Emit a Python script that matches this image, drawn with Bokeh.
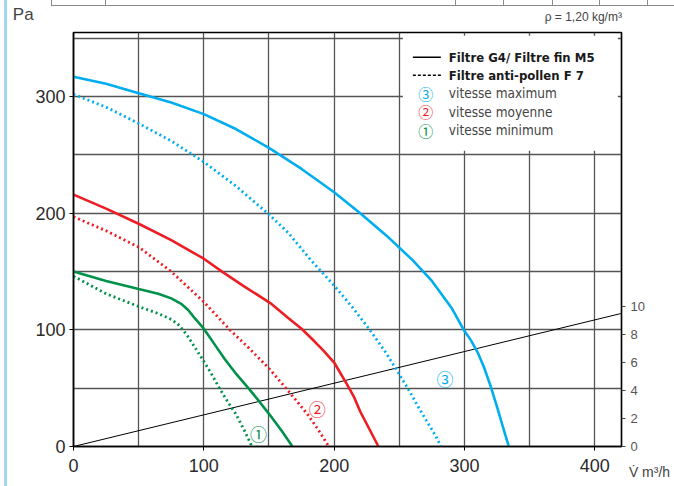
from bokeh.plotting import figure
from bokeh.models import (Range1d, LinearAxis, FixedTicker, SingleIntervalTicker,
                          Label, BoxAnnotation, Arrow, ColumnDataSource)
from bokeh.core.properties import value
from bokeh.embed import file_html
from bokeh.resources import INLINE

# ---------------- data ----------------
blue_solid_q = [0, 25, 50, 75, 100, 125, 150, 175, 200, 220, 240, 260, 275, 290,
                300, 305, 310, 315, 320, 325, 330, 334]
blue_solid_p = [317, 311, 303, 295, 285, 272, 256, 238, 218, 200, 181, 160, 142, 119,
                99, 91, 81, 68, 52, 34, 15, 0]
blue_dot_q = [0, 25, 50, 75, 100, 125, 150, 165, 182, 200, 215, 228, 240, 250, 258,
              265, 272, 278, 282]
blue_dot_p = [302, 291, 277, 262, 244, 223, 199, 183, 160, 138, 118, 99, 80, 62, 47,
              33, 20, 9, 0]
red_solid_q = [0, 25, 50, 75, 100, 114, 130, 151, 165, 175, 185, 192, 200, 209, 215,
               220, 227, 234]
red_solid_p = [216, 204, 191, 177, 161, 150, 138, 123, 110, 101, 90, 82, 72, 55, 43,
               30, 15, 0]
red_dot_q = [0, 25, 50, 75, 100, 120, 135, 150, 163, 172, 180, 188, 196]
red_dot_p = [197, 185, 171, 150, 124, 100, 84, 67, 50, 38, 27, 14, 0]
green_solid_q = [0, 25, 50, 65, 75, 83, 88, 93, 100, 108, 116, 125, 135, 143, 150,
                 160, 168]
green_solid_p = [150, 142, 135, 131, 127, 122, 117, 110, 101, 88, 75, 62, 49, 38, 28,
                 13, 0]
green_dot_q = [0, 25, 50, 65, 75, 80, 84, 88, 92, 96, 100, 106, 112, 118, 125, 131, 137]
green_dot_p = [146, 131, 120, 114, 109, 105, 100, 94, 87, 80, 73, 62, 50, 39, 27, 14, 0]
power_q = [0, 420]
power_w = [0, 9.5]

x_ticks = [0, 100, 200, 300, 400]
y_ticks = [0, 100, 200, 300]
w_ticks = [0, 2, 4, 6, 8, 10]

curve_labels = ["③", "②", "①"]
curve_label_q = [285, 187, 142]
curve_label_p = [58, 33, 11]

BLUE = "#00aeef"
RED = "#ee1d23"
GREEN = "#00914a"

X_END, Y_END = 420.5, 355

p = figure(width=674, height=486, output_backend="svg", toolbar_location=None,
           x_range=Range1d(0, X_END), y_range=Range1d(0, Y_END),
           min_border_left=73, min_border_right=53, min_border_top=32,
           min_border_bottom=40)
p.extra_y_ranges = {"w": Range1d(0, Y_END / 12)}
p.outline_line_color = "black"
p.outline_line_width = 1.5
p.background_fill_color = "white"
p.border_fill_alpha = 0

# page decorations behind the canvas: light blue left rule, cut-off box above
deco = ["linear-gradient(#9ed6f0,#9ed6f0) 4px 0 / 3px 100% no-repeat",
        "linear-gradient(#8a8a8a,#8a8a8a) 51px 5px / 623px 1px no-repeat",
        "linear-gradient(#8a8a8a,#8a8a8a) 51px 0 / 1px 6px no-repeat"]
for xv in [105, 455, 503, 552, 599, 647]:
    deco.append(f"linear-gradient(#8a8a8a,#8a8a8a) {xv}px 0 / 1px 6px no-repeat")
p.styles = {"background": ", ".join(deco) + ", #ffffff"}

NUMFONT = "Liberation Sans"
for ax in (p.xaxis[0], p.yaxis[0]):
    ax.axis_line_color = "black"
    ax.axis_line_width = 1.5
    ax.major_tick_line_color = "black"
    ax.major_tick_in = 0
    ax.major_tick_out = 4
    ax.minor_tick_line_color = None
    ax.major_label_text_font = NUMFONT
    ax.major_label_text_font_size = "18px"
    ax.major_label_text_color = "#2b2b2b"
p.xaxis[0].ticker = FixedTicker(ticks=x_ticks)
p.yaxis[0].ticker = FixedTicker(ticks=y_ticks)
p.xaxis[0].major_label_standoff = 8
p.yaxis[0].major_label_standoff = 4

rax = LinearAxis(y_range_name="w", ticker=FixedTicker(ticks=w_ticks))
rax.axis_line_color = "black"
rax.axis_line_width = 1.2
rax.major_tick_in = 0
rax.major_tick_out = 4
rax.major_tick_line_color = "#444"
rax.minor_tick_line_color = None
rax.major_label_text_font = NUMFONT
rax.major_label_text_font_size = "13px"
rax.major_label_text_color = "#555"
rax.major_label_standoff = 5
p.add_layout(rax, "right")

p.xgrid[0].ticker = SingleIntervalTicker(interval=50)
p.ygrid[0].ticker = SingleIntervalTicker(interval=50)
for g in (p.xgrid[0], p.ygrid[0]):
    g.grid_line_color = "#555555"
    g.grid_line_width = 1.3

# power line (right axis)
p.line(power_q, power_w, y_range_name="w", line_color="black", line_width=1)

# curves
LW = 2.6
p.line(blue_solid_q, blue_solid_p, line_color=BLUE, line_width=LW)
p.line(blue_dot_q, blue_dot_p, line_color=BLUE, line_width=2.8, line_dash="2 3")
p.line(red_solid_q, red_solid_p, line_color=RED, line_width=LW)
p.line(red_dot_q, red_dot_p, line_color=RED, line_width=2.8, line_dash="2 3")
p.line(green_solid_q, green_solid_p, line_color=GREEN, line_width=LW)
p.line(green_dot_q, green_dot_p, line_color=GREEN, line_width=2.8, line_dash="2 3")

src = ColumnDataSource(dict(x=curve_label_q, y=curve_label_p, t=curve_labels,
                            c=[BLUE, RED, GREEN]))
p.text(x="x", y="y", text="t", text_color="c", source=src, text_align="center",
       text_baseline="middle", text_font=value("Noto Sans CJK JP"),
       text_font_size="17px")


# helpers: screenshot pixel -> data coords for annotations
def dx(px):
    return (px - 72.7) / 1.303


def dy(py):
    return (446 - py) / 1.167


# legend box
p.add_layout(BoxAnnotation(left=dx(402), right=dx(617), top=dy(35), bottom=dy(150),
                           fill_color="white", fill_alpha=1, line_color=None,
                           level="overlay"))
LEGFONT = "DejaVu Sans Condensed, Roboto"
rows = [56.5, 74.5, 92.7, 111, 129.5]
p.add_layout(Arrow(end=None, x_start=dx(412), y_start=dy(rows[0]), x_end=dx(440),
                   y_end=dy(rows[0]), line_color="black", line_width=1.5,
                   level="overlay"))
p.add_layout(Arrow(end=None, x_start=dx(412), y_start=dy(rows[1]), x_end=dx(440),
                   y_end=dy(rows[1]), line_color="black", line_width=1.5,
                   line_dash="3 2", level="overlay"))
legend_texts = ["Filtre G4/ Filtre fin M5", "Filtre anti-pollen F 7",
                "vitesse maximum", "vitesse moyenne", "vitesse minimum"]
for i, t in enumerate(legend_texts):
    p.add_layout(Label(x=dx(448), y=dy(rows[i]), text=t, text_font=LEGFONT,
                       text_font_size="13px" if i < 2 else "13.5px",
                       text_font_style="bold" if i < 2 else "normal",
                       text_color="#1a1a1a" if i < 2 else "#444444",
                       text_baseline="middle", level="overlay"))
for i, (sym, col) in enumerate(zip(curve_labels, [BLUE, RED, GREEN])):
    p.add_layout(Label(x=dx(425), y=dy(rows[i + 2]), text=sym,
                       text_font="Noto Sans CJK JP", text_font_size="15px",
                       text_color=col, text_align="center", text_baseline="middle",
                       level="overlay"))

# texts outside the frame: put them in side panels so they are not clipped
p.add_layout(Label(x=dx(12), y=dy(14), text="Pa", text_font=NUMFONT,
                   text_font_size="17px", text_color="#444", text_baseline="middle"),
             "left")
p.add_layout(Label(x=dx(621), y=dy(16), text="ρ = 1,20 kg/m³", text_font=NUMFONT,
                   text_font_size="12px", text_color="#444", text_align="right",
                   text_baseline="middle"), "above")
p.add_layout(Label(x=dx(628), y=dy(472), text="V\u0307 m³/h", text_font=NUMFONT,
                   text_font_size="14px", text_color="#444", text_baseline="middle"),
             "above")

open("out.html", "w").write(file_html(p, INLINE))
